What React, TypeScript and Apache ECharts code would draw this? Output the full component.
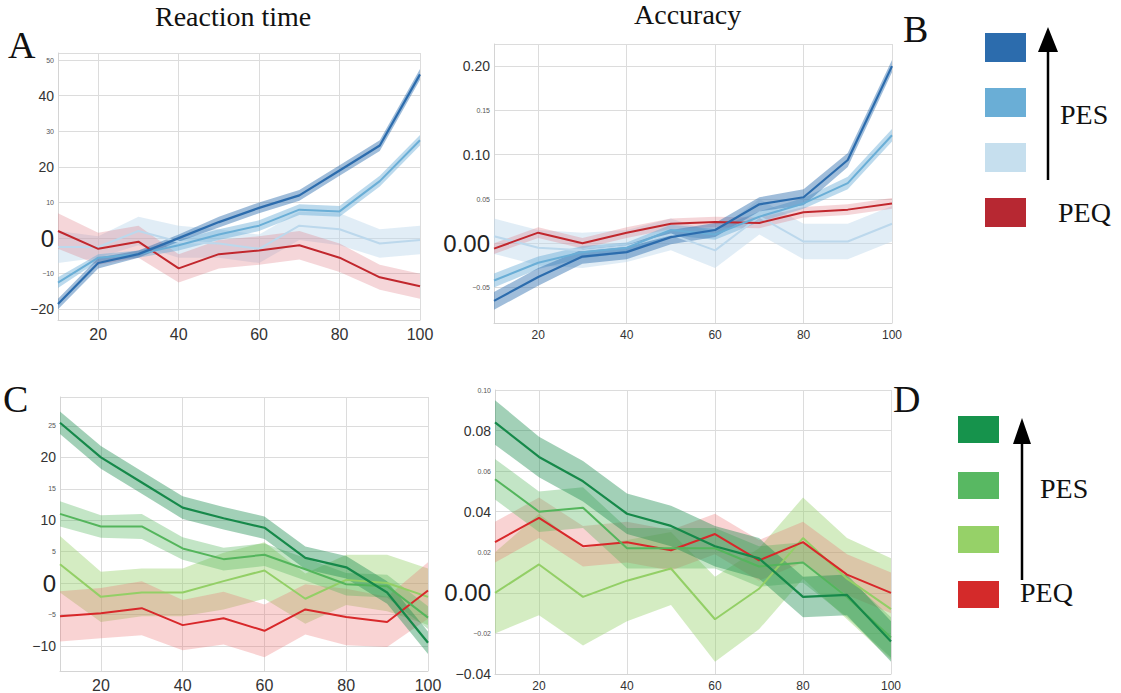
import { useEffect, useRef } from 'react';
import * as echarts from 'echarts';

const xs = ['10', '20', '30', '40', '50', '60', '70', '80', '90', '100'];

// Panel A: reaction time, PES levels (dark, mid, light) and PEQ
const aDark = [-18.5, -7, -4.5, 0, 4.5, 8.5, 12, 19, 26, 46];
const aMid = [-12.5, -5.5, -4.5, -2, 1, 3.5, 8, 7.5, 16, 27.5];
const aLight = [-2.5, -2.5, 2, -1, -1.5, -3, 3.5, 2.5, -1.5, -0.5];
const aRed = [2, -3, -1, -8.5, -4.5, -3.5, -2, -5.5, -11, -13.5];
const aDarkErr = [1.5, 1.5, 1, 1, 1.5, 1.5, 1.5, 1.5, 1.5, 1.5];
const aMidErr = [1.5, 1, 1, 1.5, 1.5, 1.5, 1.5, 1.5, 1.5, 1.5];
const aLightErr = [4.5, 3, 4, 4.5, 4, 4, 4, 4.5, 4, 4];
const aRedErr = [5, 4.5, 4.5, 4, 4, 4, 4, 4, 3.5, 3.5];

// Panel B: accuracy
const bDark = [-0.065, -0.038, -0.015, -0.01, 0.007, 0.015, 0.044, 0.052, 0.094, 0.2];
const bMid = [-0.042, -0.022, -0.01, -0.005, 0.015, 0.01, 0.03, 0.045, 0.068, 0.122];
const bLight = [0.008, -0.005, -0.008, -0.003, 0.01, -0.008, 0.03, 0.002, 0.002, 0.022];
const bRed = [-0.006, 0.012, 0.0, 0.012, 0.022, 0.024, 0.023, 0.035, 0.038, 0.045];
const bDarkErr = [0.01, 0.01, 0.008, 0.008, 0.008, 0.008, 0.008, 0.009, 0.008, 0.007];
const bMidErr = [0.008, 0.007, 0.007, 0.006, 0.006, 0.006, 0.006, 0.006, 0.007, 0.007];
const bLightErr = [0.02, 0.02, 0.02, 0.018, 0.018, 0.02, 0.02, 0.02, 0.02, 0.02];
const bRedErr = [0.006, 0.006, 0.006, 0.006, 0.006, 0.006, 0.006, 0.006, 0.006, 0.006];

// Panel C: reaction time, green set
const cDark = [25.5, 20, 16, 12, 10.3, 8.8, 4, 2.5, -1.5, -9.5];
const cMid = [11, 9, 9, 5.5, 3.8, 4.5, 2.2, -0.2, -0.5, -5.5];
const cLight = [3, -2.2, -1.5, -1.5, 0.3, 2, -2.5, 0.5, 0, -2.2];
const cRed = [-5.3, -4.8, -4, -6.7, -5.6, -7.6, -4.2, -5.4, -6.2, -1.2];
const cDarkErr = [1.8, 1.8, 1.8, 1.8, 1.8, 1.8, 1.8, 1.8, 1.8, 1.8];
const cMidErr = [2, 1.8, 2, 1.8, 1.8, 1.8, 1.8, 1.8, 1.8, 1.8];
const cLightErr = [4.5, 4, 3.8, 3.8, 4.5, 4.5, 4, 4, 4.5, 4.5];
const cRedErr = [4, 4, 4.3, 4, 4.2, 4.2, 4, 4.5, 4, 4.5];

// Panel D: accuracy, green set
const dDark = [0.084, 0.067, 0.055, 0.039, 0.033, 0.023, 0.017, -0.002, -0.001, -0.024];
const dMid = [0.056, 0.04, 0.042, 0.022, 0.022, 0.022, 0.013, 0.015, -0.002, -0.022];
const dLight = [0.0, 0.014, -0.002, 0.006, 0.012, -0.013, 0.002, 0.027, 0.007, -0.008];
const dRed = [0.025, 0.037, 0.023, 0.025, 0.021, 0.029, 0.016, 0.025, 0.009, 0.0];
const dDarkErr = [0.011, 0.01, 0.01, 0.01, 0.01, 0.01, 0.01, 0.01, 0.01, 0.01];
const dMidErr = [0.01, 0.01, 0.01, 0.01, 0.01, 0.01, 0.01, 0.01, 0.01, 0.01];
const dLightErr = [0.02, 0.025, 0.024, 0.02, 0.018, 0.021, 0.02, 0.02, 0.02, 0.025];
const dRedErr = [0.01, 0.01, 0.01, 0.01, 0.01, 0.01, 0.01, 0.01, 0.01, 0.01];

const blues = ['#2c6cad', '#6aaed6', '#bcd8ec', '#c1272d'];
const blueBands = ['rgba(44,108,173,0.45)', 'rgba(106,174,214,0.45)', 'rgba(188,216,236,0.45)', 'rgba(222,120,130,0.3)'];
const greens = ['#16894a', '#54b55c', '#93cf66', '#d8282a'];
const greenBands = ['rgba(22,137,74,0.4)', 'rgba(84,181,92,0.35)', 'rgba(147,207,102,0.4)', 'rgba(235,110,110,0.3)'];

const SERIF = '"Liberation Serif", "DejaVu Serif", serif';
const SANS = '"Liberation Sans", Arial, sans-serif';

const rich = {
  s: { fontSize: 7, color: '#555', fontFamily: SANS },
  m: { fontSize: 14, color: '#333', fontFamily: SANS },
  l: { fontSize: 24, color: '#222', fontFamily: SANS },
};

export default function App() {
  const ref = useRef<HTMLDivElement>(null);

  useEffect(() => {
    if (!ref.current) return;
    const chart = echarts.init(ref.current, null, { renderer: 'svg' });

    const grids = [
      { left: 58, top: 53, width: 362, height: 267 },
      { left: 494, top: 44, width: 398, height: 279 },
      { left: 60, top: 397, width: 368, height: 275 },
      { left: 495, top: 390, width: 396, height: 284 },
    ];

    const labelFmt = (big: number[], huge: number[], dec: number) => (v: number) => {
      const k = Math.round(v * Math.pow(10, dec));
      const txt = (k / Math.pow(10, dec)).toFixed(dec).replace('-', '\u2212');
      const style = huge.includes(k) ? 'l' : big.includes(k) ? 'm' : 's';
      return `{${style}|${txt}}`;
    };

    const yAxes = [
      { min: -23, max: 52, splitNumber: 7, formatter: labelFmt([40, 20, -20], [0], 0) },
      { min: -0.09, max: 0.225, splitNumber: 6, formatter: labelFmt([20, 10], [0], 2) },
      { min: -14, max: 29.6, splitNumber: 8, formatter: labelFmt([20, 10, -10], [0], 0) },
      { min: -0.04, max: 0.1, splitNumber: 7, formatter: labelFmt([8, 4, -4], [0], 2) },
    ];

    const panels = [
      { lines: [aDark, aMid, aLight, aRed], errs: [aDarkErr, aMidErr, aLightErr, aRedErr], colors: blues, bands: blueBands },
      { lines: [bDark, bMid, bLight, bRed], errs: [bDarkErr, bMidErr, bLightErr, bRedErr], colors: blues, bands: blueBands },
      { lines: [cDark, cMid, cLight, cRed], errs: [cDarkErr, cMidErr, cLightErr, cRedErr], colors: greens, bands: greenBands },
      { lines: [dDark, dMid, dLight, dRed], errs: [dDarkErr, dMidErr, dLightErr, dRedErr], colors: greens, bands: greenBands },
    ];

    const series: any[] = [];
    panels.forEach((p, gi) => {
      const order = [2, 3, 1, 0];
      order.forEach((li) => {
        const stack = `p${gi}l${li}`;
        series.push({
          type: 'line', xAxisIndex: gi, yAxisIndex: gi, stack, stackStrategy: 'all',
          data: p.lines[li].map((v, i) => v - p.errs[li][i]),
          lineStyle: { opacity: 0 }, symbol: 'none', silent: true,
        });
        series.push({
          type: 'line', xAxisIndex: gi, yAxisIndex: gi, stack, stackStrategy: 'all',
          data: p.errs[li].map((e) => 2 * e),
          lineStyle: { opacity: 0 }, symbol: 'none', silent: true,
          areaStyle: { color: p.bands[li], opacity: 1 },
        });
      });
      order.forEach((li) => {
        series.push({
          type: 'line', xAxisIndex: gi, yAxisIndex: gi,
          data: p.lines[li],
          lineStyle: { color: p.colors[li], width: li === 0 ? 2.2 : 2 },
          symbol: 'none', z: 3,
        });
      });
    });

    const option: any = {
      animation: false,
      backgroundColor: '#fff',
      grid: grids,
      xAxis: grids.map((_, i) => ({
        type: 'category', gridIndex: i, data: xs, boundaryGap: false,
        axisLine: { show: true, onZero: false, lineStyle: { color: '#d4d4d4' } },
        axisTick: { show: false },
        splitLine: { show: true, interval: (idx: number) => idx % 2 === 1, lineStyle: { color: '#dcdcdc' } },
        axisLabel: {
          interval: (idx: number) => idx % 2 === 1,
          fontFamily: SANS, color: '#333', fontSize: i % 2 === 0 ? 16 : 12, margin: 6,
        },
      })),
      yAxis: yAxes.map((y, i) => ({
        type: 'value', gridIndex: i, min: y.min, max: y.max, splitNumber: y.splitNumber,
        axisLine: { show: true, lineStyle: { color: '#d4d4d4' } },
        axisTick: { show: false },
        splitLine: { show: true, lineStyle: { color: '#dcdcdc' } },
        axisLabel: { showMinLabel: i === 3, showMaxLabel: i === 3, formatter: y.formatter, rich, margin: 4 },
      })),
      series,
      graphic: [
        { type: 'text', left: 155, top: 2, style: { text: 'Reaction time', font: `28px ${SERIF}`, fill: '#111' } },
        { type: 'text', left: 634, top: 0, style: { text: 'Accuracy', font: `28px ${SERIF}`, fill: '#111' } },
        { type: 'text', left: 8, top: 26, style: { text: 'A', font: `38px ${SERIF}`, fill: '#111' } },
        { type: 'text', left: 903, top: 10, style: { text: 'B', font: `38px ${SERIF}`, fill: '#111' } },
        { type: 'text', left: 3, top: 380, style: { text: 'C', font: `38px ${SERIF}`, fill: '#111' } },
        { type: 'text', left: 893, top: 380, style: { text: 'D', font: `38px ${SERIF}`, fill: '#111' } },
        // legend top
        { type: 'rect', shape: { x: 985, y: 33, width: 41, height: 29 }, style: { fill: '#2c6cad' } },
        { type: 'rect', shape: { x: 985, y: 88, width: 41, height: 29 }, style: { fill: '#6aaed6' } },
        { type: 'rect', shape: { x: 985, y: 143, width: 41, height: 29 }, style: { fill: '#c6dfee' } },
        { type: 'rect', shape: { x: 985, y: 198, width: 41, height: 29 }, style: { fill: '#b72832' } },
        { type: 'line', shape: { x1: 1048, y1: 180, x2: 1048, y2: 48 }, style: { stroke: '#000', lineWidth: 2.5 } },
        { type: 'polygon', shape: { points: [[1038, 52], [1048, 27], [1058, 52]] }, style: { fill: '#000' } },
        { type: 'text', left: 1060, top: 100, style: { text: 'PES', font: `28px ${SERIF}`, fill: '#111' } },
        { type: 'text', left: 1058, top: 198, style: { text: 'PEQ', font: `28px ${SERIF}`, fill: '#111' } },
        // legend bottom
        { type: 'rect', shape: { x: 958, y: 416, width: 41, height: 27 }, style: { fill: '#16934c' } },
        { type: 'rect', shape: { x: 958, y: 472, width: 41, height: 27 }, style: { fill: '#58b862' } },
        { type: 'rect', shape: { x: 958, y: 526, width: 41, height: 27 }, style: { fill: '#96d168' } },
        { type: 'rect', shape: { x: 958, y: 581, width: 41, height: 27 }, style: { fill: '#d42a2a' } },
        { type: 'line', shape: { x1: 1022, y1: 580, x2: 1022, y2: 440 }, style: { stroke: '#000', lineWidth: 2.5 } },
        { type: 'polygon', shape: { points: [[1013, 444], [1022, 418], [1031, 444]] }, style: { fill: '#000' } },
        { type: 'text', left: 1040, top: 474, style: { text: 'PES', font: `28px ${SERIF}`, fill: '#111' } },
        { type: 'text', left: 1020, top: 578, style: { text: 'PEQ', font: `28px ${SERIF}`, fill: '#111' } },
      ],
    };

    chart.setOption(option);
    return () => chart.dispose();
  }, []);

  return (
    <div
      ref={ref}
      style={{ position: 'fixed', left: 0, top: 0, width: 1121, height: 693, background: '#fff' }}
    />
  );
}
